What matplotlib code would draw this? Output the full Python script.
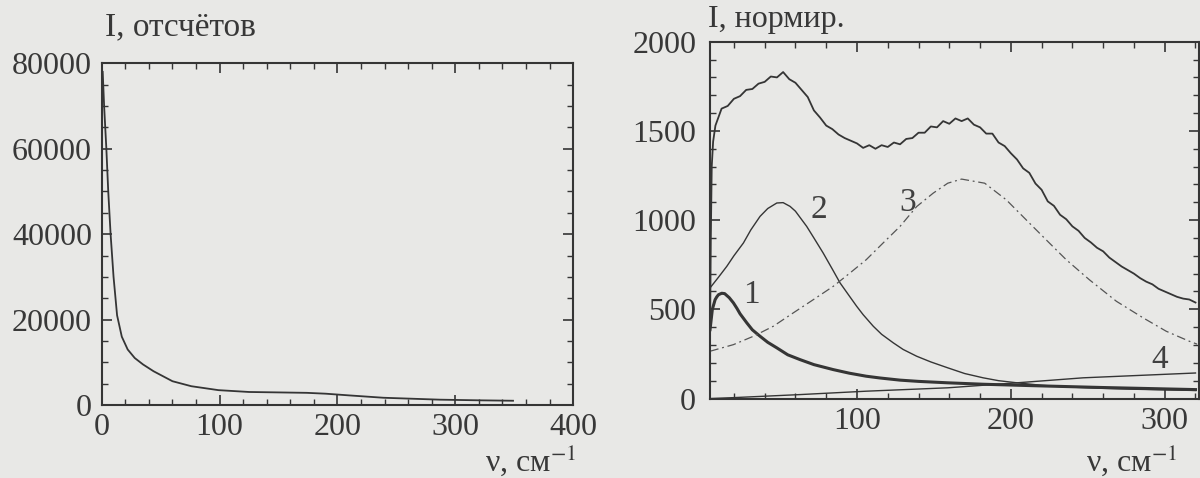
import numpy as np
import matplotlib
matplotlib.use('Agg')
import matplotlib.pyplot as plt
from matplotlib.ticker import MultipleLocator

plt.rcParams['font.family'] = ['Liberation Serif', 'DejaVu Serif']
plt.rcParams['mathtext.fontset'] = 'stix'

# left panel: raw spectrum, counts
nu_raw = [0.8, 2, 3.9, 5.5, 7.5, 10, 13, 17, 22, 28, 35, 44, 60, 76, 99, 125, 150, 174, 190, 210, 239, 287, 320, 349]
i_raw = [78000, 70000, 60000, 50000, 40000, 30000, 21000, 16000, 13000, 11000, 9500, 7900, 5570, 4400, 3480,
         3050, 2950, 2850, 2650, 2250, 1700, 1250, 1100, 1000]

# right panel: normalised spectrum (noisy total) and its components 1-4
nu_tot = [4.5, 5.0, 5.6, 6.5, 8, 12, 16, 20, 24, 28, 32, 36, 40, 44, 48, 52, 56, 60, 64, 68, 72, 76, 80, 84, 88,
          92, 96, 100, 104, 108, 112, 116, 120, 124, 128, 132, 136, 140, 144, 148, 152, 156, 160, 164, 168, 172,
          176, 180, 184, 188, 192, 196, 200, 204, 208, 212, 216, 220, 224, 228, 232, 236, 240, 244, 248, 252,
          256, 260, 264, 268, 272, 276, 280, 284, 288, 292, 296, 300, 304, 308, 312, 316, 320]
i_tot = [370, 900, 1300, 1440, 1530, 1625, 1640, 1680, 1695, 1730, 1735, 1765, 1775, 1805, 1800, 1830, 1790,
         1770, 1730, 1690, 1615, 1575, 1530, 1510, 1480, 1460, 1445, 1430, 1405, 1420, 1400, 1420, 1410, 1435,
         1425, 1455, 1460, 1490, 1490, 1525, 1520, 1555, 1540, 1570, 1555, 1570, 1535, 1520, 1485, 1485, 1435,
         1415, 1375, 1340, 1290, 1265, 1205, 1170, 1105, 1080, 1030, 1005, 965, 940, 900, 875, 845, 825, 790,
         765, 740, 720, 700, 675, 655, 640, 615, 600, 585, 570, 560, 555, 538]

nu_1 = [4.5, 6, 7.8, 8.9, 10, 12.1, 14, 17, 19.7, 22, 24, 28.4, 32, 37, 42, 47.9, 55, 63, 72, 84.6, 95, 106,
        115, 128, 140, 159, 182, 214, 258, 320]
i_1 = [386, 500, 554, 570, 582, 590, 588, 565, 536, 505, 475, 424, 385, 349, 315, 284, 245, 218, 190, 162,
       142, 125, 115, 103, 96, 88, 80, 72, 62, 50]

nu_2 = [4.5, 10, 15.4, 20, 26.2, 31, 37, 42, 47.9, 52, 56.5, 60, 67.3, 72, 78, 84, 89, 95, 99.8, 104, 110.6,
        116, 123.6, 130, 138.8, 148, 159, 170, 182, 192, 204, 220, 236, 260, 280, 320]
i_2 = [620, 680, 741, 800, 872, 945, 1021, 1065, 1096, 1098, 1077, 1050, 965, 900, 816, 725, 648, 575, 517,
       470, 405, 360, 312, 275, 237, 205, 172, 140, 116, 100, 88, 74, 65, 57, 52, 45]

nu_3 = [4.5, 19.7, 32.7, 45.6, 58.6, 71.6, 84.6, 95.5, 106, 117, 128, 138.8, 149.5, 159, 168, 183, 197, 212,
        225, 236, 251, 268.6, 286, 301, 316, 321]
i_3 = [265, 302, 349, 405, 480, 554, 629, 704, 778, 872, 965, 1076, 1151, 1207, 1230, 1207, 1114, 984,
       872, 778, 666, 545, 452, 377, 321, 305]

nu_4 = [5, 20, 63, 106, 159, 204, 247, 320]
i_4 = [0, 5, 22, 41, 60, 88, 116, 143]

bg = '#e8e8e6'
ink = '#353535'
txt_c = '#383838'

fig = plt.figure(figsize=(12, 4.78), dpi=100, facecolor=bg)
ax1 = fig.add_axes([0.0848, 0.1527, 0.3928, 0.7148], facecolor=bg)
ax2 = fig.add_axes([0.5917, 0.1663, 0.4071, 0.7464], facecolor=bg)

ax1.plot(nu_raw, i_raw, color=ink, lw=1.3)
ax1.set_xlim(0, 400)
ax1.set_ylim(0, 80000)
ax1.xaxis.set_major_locator(MultipleLocator(100))
ax1.xaxis.set_minor_locator(MultipleLocator(20))
ax1.yaxis.set_major_locator(MultipleLocator(20000))
ax1.yaxis.set_minor_locator(MultipleLocator(5000))

ax2.plot(nu_tot, i_tot, color=ink, lw=1.3)
ax2.plot(nu_1, i_1, color=ink, lw=2.2)
ax2.plot(nu_2, i_2, color=ink, lw=1.0)
ax2.plot(nu_3, i_3, color='#555555', lw=0.9, dashes=[7, 3, 1.5, 3])
ax2.plot(nu_4, i_4, color=ink, lw=1.0)
ax2.set_xlim(4.5, 322)
ax2.set_ylim(0, 2000)
ax2.xaxis.set_major_locator(MultipleLocator(100))
ax2.xaxis.set_minor_locator(MultipleLocator(20))
ax2.yaxis.set_major_locator(MultipleLocator(500))
ax2.yaxis.set_minor_locator(MultipleLocator(100))

for txt, x, y in [('1', 31.6, 582), ('2', 75, 1058), ('3', 133, 1096), ('4', 297, 218)]:
    ax2.text(x, y, txt, fontsize=24, color='#404040', ha='center', va='center')

for ax, pad in [(ax1, 7), (ax2, 10)]:
    for s in ax.spines.values():
        s.set_color(ink)
        s.set_linewidth(1.5)
    ax.tick_params(which='both', direction='in', top=True, right=True, colors=ink,
                   labelsize=23, labelcolor=txt_c)
    ax.tick_params(which='major', length=7, width=1.2)
    ax.tick_params(which='minor', length=4, width=1.0)
    ax.tick_params(axis='y', pad=pad)
    ax.tick_params(axis='x', pad=6)

fig.text(105 / 1200, 1 - 27 / 478, 'I, отсчётов', fontsize=24, color=txt_c, ha='left', va='center')
fig.text(708 / 1200, 1 - 20 / 478, 'I, нормир.', fontsize=23, color=txt_c, ha='left', va='center')
fig.text(577 / 1200, 1 - 460 / 478, 'ν, см$^{-1}$', fontsize=23, color=txt_c, ha='right', va='center')
fig.text(1178 / 1200, 1 - 460 / 478, 'ν, см$^{-1}$', fontsize=23, color=txt_c, ha='right', va='center')

fig.savefig('out.png', dpi=100, facecolor=bg)
